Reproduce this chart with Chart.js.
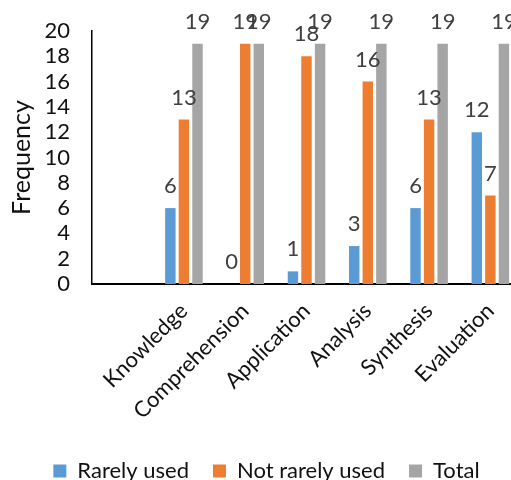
<!DOCTYPE html>
<html>
<head>
<meta charset="utf-8">
<script src="https://cdn.jsdelivr.net/npm/chart.js@4/dist/chart.umd.min.js"></script>
<style>
  html, body { margin: 0; padding: 0; background: #fff; overflow: hidden; }
  #wrap { width: 521px; height: 480px; }
</style>
</head>
<body>
<div id="wrap"><canvas id="c" width="521" height="480"></canvas></div>
<script>
// Levels of Bloom's taxonomy (the first slot is left empty on the axis)
const categories = ["", "Knowledge", "Comprehension", "Application", "Analysis", "Synthesis", "Evaluation"];
const rarelyUsed = [null, 6, 0, 1, 3, 6, 12];
const notRarelyUsed = [null, 13, 19, 18, 16, 13, 7];
const total = [null, 19, 19, 19, 19, 19, 19];
const yTicks = [0, 2, 4, 6, 8, 10, 12, 14, 16, 18, 20];

const FONT = "Lato, 'Open Sans', sans-serif";

// Writes each bar's value above it
const valueLabels = {
  id: 'valueLabels',
  afterDatasetsDraw(chart) {
    const ctx = chart.ctx;
    ctx.save();
    ctx.font = "22px " + FONT;
    ctx.fillStyle = '#404040';
    ctx.textAlign = 'center';
    ctx.textBaseline = 'middle';
    chart.data.datasets.forEach((ds, di) => {
      const meta = chart.getDatasetMeta(di);
      meta.data.forEach((bar, i) => {
        const v = ds.data[i];
        if (v === null || v === undefined) return;
        ctx.fillText(String(v), bar.x, bar.y - 22);
      });
    });
    ctx.restore();
  }
};

// Nudges the legend row a little to the right
const legendNudge = {
  id: 'legendNudge',
  afterLayout(chart) {
    if (chart.legend) {
      chart.legend.left += 6;
      chart.legend.right += 6;
    }
  }
};

new Chart(document.getElementById('c'), {
  type: 'bar',
  data: {
    labels: categories,
    datasets: [
      { label: 'Rarely used', data: rarelyUsed, backgroundColor: '#5B9BD5' },
      { label: 'Not rarely used', data: notRarelyUsed, backgroundColor: '#ED7D31' },
      { label: 'Total', data: total, backgroundColor: '#A5A5A5' }
    ]
  },
  options: {
    responsive: false,
    animation: false,
    layout: { padding: { top: 31, right: 0, bottom: -12, left: 0 } },
    datasets: {
      bar: { categoryPercentage: 0.664, barPercentage: 0.77, borderWidth: 0 }
    },
    plugins: {
      legend: {
        position: 'bottom',
        labels: {
          boxWidth: 13, boxHeight: 13, padding: 24,
          color: '#111', font: { family: FONT, size: 22 }
        }
      },
      tooltip: { enabled: false }
    },
    scales: {
      x: {
        grid: { display: false, drawTicks: false },
        border: { display: true, color: '#000', width: 2 },
        ticks: {
          color: '#111', font: { family: FONT, size: 22 },
          maxRotation: 45, minRotation: 45, padding: 14, autoSkip: false
        },
        afterFit(scale) {
          scale.height = 152;
          scale.paddingLeft = 0;
          scale.paddingRight = 0;
        }
      },
      y: {
        min: 0, max: 20,
        afterBuildTicks(scale) { scale.ticks = yTicks.map(v => ({ value: v })); },
        grid: { display: false, drawTicks: false },
        border: { display: true, color: '#000', width: 1.5 },
        ticks: { color: '#111', font: { family: FONT, size: 22 }, padding: 22, autoSkip: false },
        title: {
          display: true, text: 'Frequency', color: '#111',
          font: { family: FONT, size: 25 }, padding: { top: 7, bottom: 0 }
        },
        afterFit(scale) {
          scale.width = 92;
          scale.paddingTop = 0;
          scale.paddingBottom = 0;
        }
      }
    }
  },
  plugins: [valueLabels, legendNudge]
});
</script>
</body>
</html>
